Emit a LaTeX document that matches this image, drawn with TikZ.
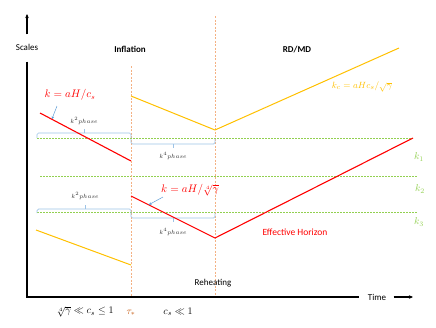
\documentclass[tikz,border=0pt]{standalone}
\usepackage{fontspec}
\setmainfont{Carlito}
\usepackage{amsmath}
\usetikzlibrary{arrows.meta}
\definecolor{colorRed}{HTML}{FF0000}
\definecolor{colorGold}{HTML}{FFC000}
\definecolor{colorGreen}{HTML}{92D050}
\definecolor{colorBrace}{HTML}{9DC3E6}
\definecolor{colorPointer}{HTML}{5B9BD5}
\definecolor{colorEpoch}{HTML}{F4B183}
\definecolor{colorTau}{HTML}{C55A11}
\def\colorRed{colorRed}
\def\colorGold{colorGold}
\def\colorGreen{colorGreen}
\def\colorBrace{colorBrace}
\def\colorPointer{colorPointer}
\def\colorEpoch{colorEpoch}
\def\colorTau{colorTau}

\begin{document}
\begin{tikzpicture}[x=1pt,y=-1pt,
  font=\fontsize{9}{11}\selectfont,
  axis/.style={line width=1.1pt, black},
  horizon/.style={line width=1.1pt, color=\colorRed},
  sound/.style={line width=1pt, color=\colorGold},
  level/.style={line width=1pt, color=\colorGreen, dash pattern=on 2pt off 1pt},
  epoch/.style={line width=0.5pt, color=\colorEpoch, dash pattern=on 2pt off 1.5pt},
  phasebrace/.style={line width=0.7pt, color=\colorBrace, rounded corners=1.5pt},
  pointer/.style={line width=0.5pt, color=\colorPointer, -{Stealth[length=3pt,width=2.5pt]}},
  phaselabel/.style={font=\fontsize{6.5}{7}\selectfont, text=black!80},
  klabel/.style={text=\colorGreen, font=\fontsize{10}{12}\selectfont}
  ]

\useasboundingbox (0,0) rectangle (436,327);

% les niveaux k (pointilles verts)
\coordinate (kOneA) at (37,138);
\coordinate (kOneB) at (413,138);
\coordinate (kTwoA) at (40,176);
\coordinate (kTwoB) at (417,176);
\coordinate (kThreeA) at (37,212);
\coordinate (kThreeB) at (417,212);
\draw[level] (kOneA) -- (kOneB);
\draw[level] (kTwoA) -- (kTwoB);
\draw[level] (kThreeA) -- (kThreeB);
\node[klabel] (kOne) at (419,157) {$k_1$};
\node[klabel] (kTwo) at (420,189) {$k_2$};
\node[klabel] (kThree) at (419,222) {$k_3$};

% les transitions
\coordinate (origin) at (27,297);
\coordinate (tauTop) at (131,66);
\coordinate (tauBot) at (131,297);
\coordinate (rehTop) at (215,16);
\coordinate (rehBot) at (215,297);
\draw[epoch] (tauTop) -- (tauBot);
\draw[epoch] (rehTop) -- (rehBot);

% accolades des phases
\draw[phasebrace] (37,138) -- (37,133) -- (131,133) -- (131,138);
\draw[phasebrace] (84,133) -- (84,129);
\draw[phasebrace] (131,139) -- (131,144) -- (215,144) -- (215,139);
\draw[phasebrace] (173,144) -- (173,148);
\draw[phasebrace] (37,213) -- (37,209) -- (131,209) -- (131,213);
\draw[phasebrace] (85,209) -- (85,205);
\draw[phasebrace] (131,213) -- (131,218) -- (215,218) -- (215,213);
\draw[phasebrace] (173,218) -- (173,222);
\node[phaselabel] (phaseA) at (84,121) {$k^2 phase$};
\node[phaselabel] (phaseB) at (173,156) {$k^4 phase$};
\node[phaselabel] (phaseC) at (85,196) {$k^2 phase$};
\node[phaselabel] (phaseD) at (173,232) {$k^4 phase$};

% horizon effectif (rouge)
\coordinate (redA) at (40,113);
\coordinate (redB) at (131,161);
\coordinate (redC) at (131,196);
\coordinate (redD) at (215,238);
\coordinate (redE) at (413,138);
\draw[horizon] (redA) -- (redB);
\draw[horizon] (redC) -- (redD) -- (redE);
\path (redA) -- (redB) coordinate[pos=0.13] (hitA);
\path (redC) -- (redD) coordinate[pos=0.21] (hitB);
\node[text=\colorRed, font=\fontsize{10.5}{12}\selectfont] (labelA) at (70,95) {$k = aH/c_s$};
\node[text=\colorRed, font=\fontsize{10.5}{12}\selectfont] (labelB) at (190,190) {$k = aH/\sqrt[4]{\gamma}$};
\coordinate (tailA) at (57,106);
\draw[pointer] (tailA) -- (hitA);
\coordinate (tailB) at (163,197);
\draw[pointer] (tailB) -- (hitB);
\node[text=\colorRed, font=\fontsize{9.5}{11}\selectfont] (effective) at (295,232) {Effective Horizon};

% echelle k_c (jaune)
\coordinate (goldA) at (131,96);
\coordinate (goldB) at (215,130);
\coordinate (goldC) at (399,48);
\coordinate (goldD) at (36,230);
\coordinate (goldE) at (131,265);
\draw[sound] (goldA) -- (goldB) -- (goldC);
\draw[sound] (goldD) -- (goldE);
\node[text=\colorGold, font=\fontsize{9.5}{11}\selectfont] (labelC) at (362,87) {$k_c = aHc_s/\sqrt{\gamma}$};

% axes
\node (scales) at (27,47) {Scales};
\node (time) at (377,297) {Time};
\coordinate (yTop) at (27,14);
\coordinate (xEnd) at (413,297);
\draw[axis, shorten <=8pt] (scales.south) -- (origin) -- ([xshift=-5pt]time.west);
\draw[axis, -{Stealth[length=4pt,width=3.5pt]}, shorten <=6pt] (scales.north) -- (yTop);
\draw[axis, -{Stealth[length=4pt,width=3.5pt]}, shorten <=4pt] (time.east) -- (xEnd);

% epoques
\node[font=\bfseries\fontsize{9}{11}\selectfont] (inflation) at (130,49) {Inflation};
\node[font=\bfseries\fontsize{9}{11}\selectfont] (rdmd) at (297,50) {RD/MD};
\node (reheating) at (213,283) {Reheating};
\node[font=\fontsize{10}{12}\selectfont] (early) at (85,312) {$\sqrt[4]{\gamma} \ll c_s \leq 1$};
\node[text=\colorTau, font=\fontsize{10}{12}\selectfont] (tau) at (131,313) {$\tau_*$};
\node[font=\fontsize{10}{12}\selectfont] (late) at (178,312) {$c_s \ll 1$};

\end{tikzpicture}
\end{document}
